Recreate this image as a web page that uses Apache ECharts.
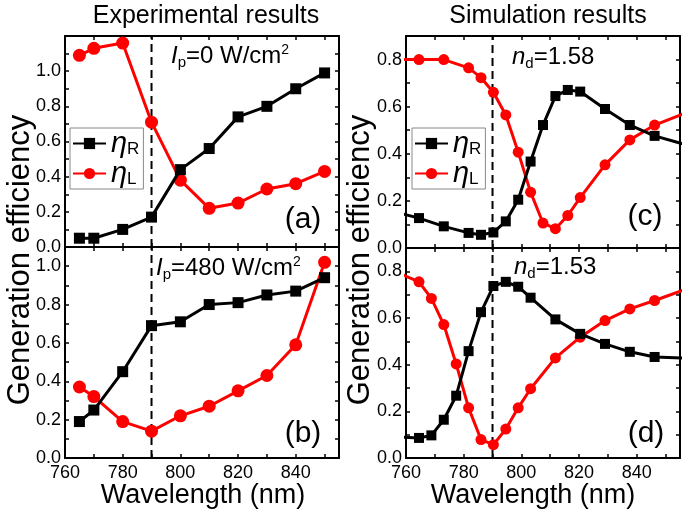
<!DOCTYPE html>
<html><head><meta charset="utf-8">
<script src="https://cdn.jsdelivr.net/npm/echarts@6/dist/echarts.min.js"></script>
<style>html,body{margin:0;padding:0;background:#fff}#c{width:688px;height:519px}</style>
</head><body><div id="c"></div>
<script>
// ---- data ----
const wlExp = [765, 770, 780, 790, 800, 810, 820, 830, 840, 850];
const aR = [0.05, 0.05, 0.10, 0.17, 0.44, 0.56, 0.74, 0.80, 0.90, 0.99];
const aL = [1.09, 1.13, 1.16, 0.71, 0.38, 0.22, 0.25, 0.33, 0.36, 0.43];
const bR = [0.19, 0.25, 0.45, 0.69, 0.71, 0.80, 0.81, 0.85, 0.87, 0.94];
const bL = [0.37, 0.32, 0.19, 0.14, 0.22, 0.27, 0.35, 0.43, 0.59, 1.02];
const wlSimC = [755.9, 764.5, 773.1, 781.7, 786.0, 790.3, 794.6, 798.9, 803.2, 807.5, 811.8, 816.1, 820.4, 829.0, 837.6, 846.2, 858];
const cR = [0.154, 0.127, 0.092, 0.064, 0.056, 0.066, 0.113, 0.205, 0.367, 0.522, 0.645, 0.671, 0.664, 0.590, 0.522, 0.476, 0.435];
const cL = [0.80, 0.80, 0.80, 0.765, 0.723, 0.661, 0.565, 0.407, 0.237, 0.106, 0.082, 0.138, 0.214, 0.353, 0.459, 0.522, 0.578];
const wlSimD = [755.9, 764.5, 768.8, 773.1, 777.4, 781.7, 786.0, 790.3, 794.6, 798.9, 803.2, 811.8, 820.4, 829.0, 837.6, 846.2, 858];
const dR = [0.09, 0.086, 0.097, 0.164, 0.267, 0.458, 0.625, 0.737, 0.755, 0.734, 0.687, 0.594, 0.532, 0.489, 0.455, 0.433, 0.428];
const dL = [0.80, 0.755, 0.684, 0.572, 0.403, 0.215, 0.079, 0.057, 0.124, 0.215, 0.297, 0.429, 0.518, 0.589, 0.639, 0.675, 0.728];
const xTickLabels = [760, 780, 800, 820, 840];
const refWl = 790;
const xMin = 760, xMax = 855;
const yMax = [1.2, 1.1, 0.9, 0.9];
const yLabelMax = [1.0, 1.0, 0.8, 0.8];

// ---- layout ----
const FONT = 'Liberation Sans';
const grids = [
  {left: 65, top: 36, width: 274, height: 211},
  {left: 65, top: 247, width: 274, height: 211},
  {left: 406, top: 36, width: 274, height: 212},
  {left: 406, top: 248, width: 274, height: 210}
];
const panels = [
  {wl: wlExp, R: aR, L: aL, sq: 11, ci: 13, xlab: false},
  {wl: wlExp, R: bR, L: bL, sq: 11, ci: 13, xlab: true},
  {wl: wlSimC, R: cR, L: cL, sq: 10, ci: 11, xlab: false},
  {wl: wlSimD, R: dR, L: dL, sq: 10, ci: 11, xlab: true}
];

const xAxes = [], yAxes = [], series = [];
const lineAx = {show: true, onZero: false, lineStyle: {color: '#000', width: 2}};
panels.forEach((p, gi) => {
  const tick = {show: true, inside: true, length: 4, lineStyle: {color: '#000', width: 1.5}};
  const xBase = {type: 'value', gridIndex: gi, min: xMin, max: xMax, interval: 10,
    axisLine: lineAx, axisTick: tick, splitLine: {show: false}};
  xAxes.push(Object.assign({}, xBase, {position: 'bottom',
    axisLabel: {show: p.xlab, color: '#000', fontSize: 18, fontFamily: FONT, margin: 6,
      formatter: v => xTickLabels.includes(Math.round(v)) ? String(Math.round(v)) : ''}}));
  xAxes.push(Object.assign({}, xBase, {position: 'top', axisLabel: {show: false}}));
  const yBase = {type: 'value', gridIndex: gi, min: 0, max: yMax[gi], interval: 0.1,
    axisLine: lineAx, axisTick: tick, splitLine: {show: false}};
  yAxes.push(Object.assign({}, yBase, {position: 'left',
    axisLabel: {show: true, color: '#000', fontSize: 18, fontFamily: FONT, margin: 4,
      formatter: v => { const k = Math.round(v * 10); return (k % 2 === 0 && k <= Math.round(yLabelMax[gi] * 10)) ? (k / 10).toFixed(1) : ''; }}}));
  yAxes.push(Object.assign({}, yBase, {position: 'right', axisLabel: {show: false}}));
  const xi = gi * 2, yi = gi * 2;
  series.push({type: 'line', name: 'ref', xAxisIndex: xi, yAxisIndex: yi, symbol: 'none', silent: true,
    data: [[refWl, 0], [refWl, yMax[gi]]], lineStyle: {color: '#000', width: 2, type: [8, 5]}, z: 1});
  series.push({type: 'line', name: 'L', xAxisIndex: xi, yAxisIndex: yi, symbol: 'circle', symbolSize: p.ci,
    data: p.wl.map((x, i) => [x, p.L[i]]), itemStyle: {color: '#ff0000'},
    lineStyle: {color: '#ff0000', width: 3}, z: 2});
  series.push({type: 'line', name: 'R', xAxisIndex: xi, yAxisIndex: yi, symbol: 'rect', symbolSize: p.sq,
    data: p.wl.map((x, i) => [x, p.R[i]]), itemStyle: {color: '#000'},
    lineStyle: {color: '#000', width: 3}, z: 3});
});

function mkLegend(left, top) {
  return {left, top, orient: 'vertical', data: ['R', 'L'], itemWidth: 33, itemHeight: 14, itemGap: 1,
    borderColor: '#888', borderWidth: 1, padding: [1, 4, 1, 2], backgroundColor: '#fff',
    selectedMode: false,
    formatter: n => '{e|η}{s|' + n + '}',
    textStyle: {rich: {
      e: {fontSize: 29, fontStyle: 'italic', fontFamily: FONT, color: '#000'},
      s: {fontSize: 17, fontFamily: FONT, color: '#000', padding: [12, 0, 0, 0]}
    }}};
}

function txt(x, y, text, size, opts) {
  return Object.assign({type: 'text', x, y, silent: true, style: {text, font: size + 'px "' + FONT + '"',
    fill: '#000', align: 'center', verticalAlign: 'middle', textAlign: 'center', textVerticalAlign: 'middle'}}, opts || {});
}
function richTxt(x, y, text) {
  return {type: 'text', x, y, silent: true, style: {text, fill: '#000', align: 'left', verticalAlign: 'middle',
    textAlign: 'left', textVerticalAlign: 'middle', font: '24px "' + FONT + '"',
    rich: {
      i: {fontSize: 24, fontStyle: 'italic', fontFamily: FONT, color: '#000'},
      n: {fontSize: 24, fontFamily: FONT, color: '#000'},
      s: {fontSize: 15, fontFamily: FONT, color: '#000', padding: [13, 0, 0, 0]},
      u: {fontSize: 14, fontFamily: FONT, color: '#000', padding: [0, 0, 12, 0]}
    }}};
}

const graphic = [
  txt(206, 16, 'Experimental results', 25),
  txt(548, 16, 'Simulation results', 25),
  txt(203, 496, 'Wavelength (nm)', 27),
  txt(533, 496, 'Wavelength (nm)', 27),
  txt(20, 260, 'Generation efficiency', 31, {rotation: Math.PI / 2}),
  txt(360, 260, 'Generation efficiency', 31, {rotation: Math.PI / 2}),
  txt(303, 220, '(a)', 30), txt(303, 434, '(b)', 30),
  txt(645, 217, '(c)', 30), txt(646, 434, '(d)', 30),
  richTxt(171, 56, '{i|I}{s|p}{n|=0 W/cm}{u|2}'),
  richTxt(156, 268, '{i|I}{s|p}{n|=480 W/cm}{u|2}'),
  richTxt(512, 57, '{i|n}{s|d}{n|=1.58}'),
  richTxt(514, 267, '{i|n}{s|d}{n|=1.53}')
];

const chart = echarts.init(document.getElementById('c'), null, {renderer: 'canvas'});
chart.setOption({
  animation: false,
  backgroundColor: '#fff',
  grid: grids.map(g => Object.assign({containLabel: false}, g)),
  xAxis: xAxes, yAxis: yAxes,
  legend: [mkLegend(70, 128), mkLegend(412, 128)],
  graphic, series
});
</script></body></html>
